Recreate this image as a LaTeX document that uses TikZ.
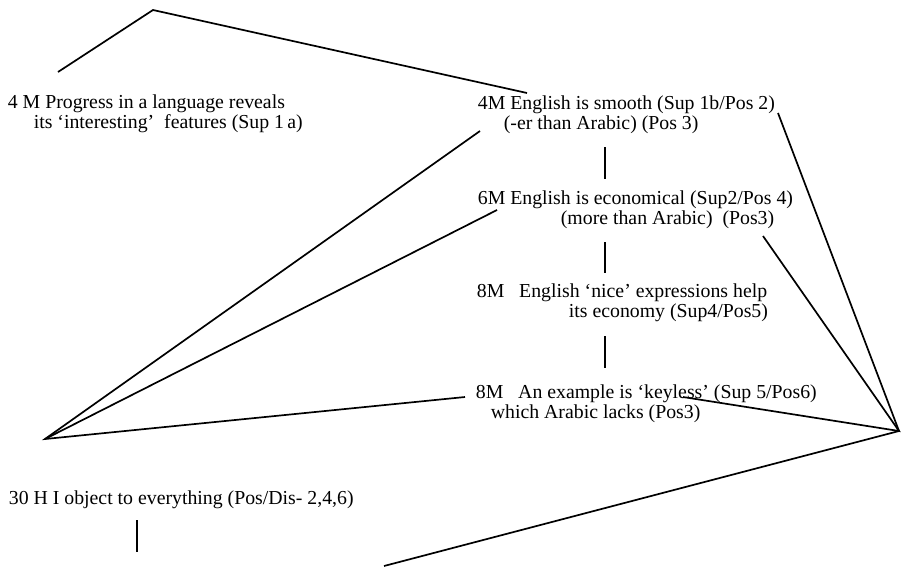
\documentclass[tikz,border=0pt]{standalone}
\usepackage{fontspec}
\setmainfont{Liberation Serif}
\begin{document}
\begin{tikzpicture}[x=1pt,y=-1pt,line width=1.7pt,
		txt/.style={anchor=base west,align=left,inner sep=0pt,font=\fontsize{19.8}{20}\selectfont}]
		\useasboundingbox (0,0) rectangle (901,568);
		% text blocks (placed at the baseline of their last line)
		\node[txt] (prog) at (7,128) {4 M Progress in a language reveals\\\hspace*{26pt}its `interesting'\ \ features (Sup 1\,a)};
		\node[txt] (smooth) at (477,129) {4M English is smooth (Sup 1b/Pos 2)\\\hspace*{26pt}(-er than Arabic) (Pos 3)};
		\node[txt] (econ) at (477,224) {6M English is economical (Sup2/Pos 4)\\\hspace*{83pt}(more than Arabic)\ \ (Pos3)};
		\node[txt] (nice) at (476,317) {8M\ \ \ English `nice' expressions help\\\hspace*{92pt}its economy (Sup4/Pos5)};
		\node[txt] (keyless) at (475,418) {8M\ \ \ An example is `keyless' (Sup 5/Pos6)\\\hspace*{15pt}which Arabic lacks (Pos3)};
		\node[txt] (object) at (8,504) {30 H I object to everything (Pos/Dis- 2,4,6)};
		
		% apexes and line ends
		\coordinate (peak) at (153,10);
		\coordinate (peakL) at (58,72);
		\coordinate (peakR) at (527,93);
		\coordinate (L) at (45,439);
		\coordinate (R) at (899,431);
		\coordinate (Lsm) at (480,131);
		\coordinate (Lec) at (497,210);
		\coordinate (Lkey) at (465,397);
		\coordinate (Rsm) at (778,113);
		\coordinate (Rec) at (763,236);
		\coordinate (Rkey) at (683,397);
		\coordinate (Rbot) at (384,566);
		
		\draw (peakL)--(peak)--(peakR);
		\draw (Lsm)--(L)--(Lkey);
		\draw (L)--(Lec);
		\draw (Rsm)--(R)--(Rbot);
		\draw (Rec)--(R)--(Rkey);
		
		% links down the column
		\coordinate (sm-a) at (605,147);
		\coordinate (sm-b) at (605,179);
		\coordinate (ec-a) at (605,242);
		\coordinate (ec-b) at (605,273);
		\coordinate (ni-a) at (605,336);
		\coordinate (ni-b) at (605,368);
		\coordinate (ob-a) at (137,520);
		\coordinate (ob-b) at (137,552);
		\draw (sm-a)--(sm-b);
		\draw (ec-a)--(ec-b);
		\draw (ni-a)--(ni-b);
		\draw (ob-a)--(ob-b);
	\end{tikzpicture}
\end{document}
